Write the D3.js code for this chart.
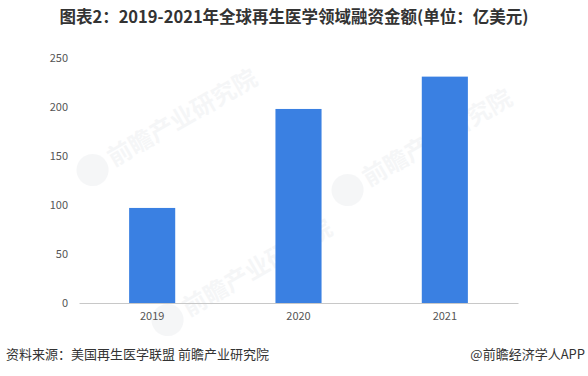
<!DOCTYPE html>
<html>
<head>
<meta charset="utf-8">
<script src="https://cdn.jsdelivr.net/npm/d3@7"></script>
<style>
  body { margin: 0; background: #fff; }
  text { font-family: "Noto Sans CJK SC", "Microsoft YaHei", sans-serif; }
</style>
</head>
<body>
<div id="chart"></div>
<script>
// data
var years = ["2019", "2020", "2021"];
var amounts = [97, 198, 231];
var yTicks = [0, 50, 100, 150, 200, 250];

var svgWidth = 588;
var svgHeight = 376;

var margin = { top: 58, right: 70, bottom: 73, left: 79 };
var width = svgWidth - margin.left - margin.right;
var height = svgHeight - margin.top - margin.bottom;

var svg = d3.select("#chart")
    .append("svg")
    .attr("width", svgWidth)
    .attr("height", svgHeight);

// watermarks (faint)
var marks = [[100, 175], [355, 195], [175, 325]];
marks.forEach(function(m) {
    var g = svg.append("g")
        .attr("transform", `translate(${m[0]},${m[1]}) rotate(-30)`)
        .attr("opacity", 0.08);
    g.append("circle").attr("cx", -4).attr("cy", -8).attr("r", 16).attr("fill", "#8a96a8");
    g.append("text")
        .attr("x", 16).attr("y", 0)
        .attr("font-size", 24).attr("font-weight", "bold")
        .attr("fill", "#8a96a8")
        .text("前瞻产业研究院");
});

var chartGroup = svg.append("g")
    .attr("transform", `translate(${margin.left}, ${margin.top})`);

var xScale = d3.scaleBand()
    .domain(years)
    .range([0, width])
    .paddingInner(0.685)
    .paddingOuter(0.3425);

var yScale = d3.scaleLinear()
    .domain([0, 250])
    .range([height, 0]);

// bars
chartGroup.selectAll("rect")
    .data(amounts)
    .enter()
    .append("rect")
    .attr("x", (d, i) => xScale(years[i]))
    .attr("y", d => yScale(d))
    .attr("width", xScale.bandwidth())
    .attr("height", d => height - yScale(d))
    .attr("fill", "#3a80e2");

// x axis
var bottomAxis = d3.axisBottom(xScale).tickSize(0).tickPadding(9);
var xAxis = chartGroup.append("g")
    .attr("transform", `translate(0,${height})`)
    .call(bottomAxis);
xAxis.select(".domain").attr("stroke", "#c8c8c8");
xAxis.selectAll("text")
    .attr("font-size", 11)
    .attr("fill", "#555");

// y axis
var leftAxis = d3.axisLeft(yScale).tickValues(yTicks).tickSize(0).tickPadding(11);
var yAxis = chartGroup.append("g").call(leftAxis);
yAxis.select(".domain").remove();
yAxis.selectAll("text")
    .attr("font-size", 11)
    .attr("fill", "#555");

// title
svg.append("text")
    .attr("x", 294)
    .attr("y", 23)
    .attr("text-anchor", "middle")
    .attr("font-size", 16.5)
    .attr("font-weight", "bold")
    .attr("fill", "#333")
    .text("图表2：2019-2021年全球再生医学领域融资金额(单位：亿美元)");

// footer
svg.append("text")
    .attr("x", 6)
    .attr("y", 359)
    .attr("font-size", 13)
    .attr("fill", "#333")
    .text("资料来源：美国再生医学联盟 前瞻产业研究院");

svg.append("text")
    .attr("x", 585)
    .attr("y", 359)
    .attr("text-anchor", "end")
    .attr("font-size", 13)
    .attr("fill", "#333")
    .text("@前瞻经济学人APP");
</script>
</body>
</html>
